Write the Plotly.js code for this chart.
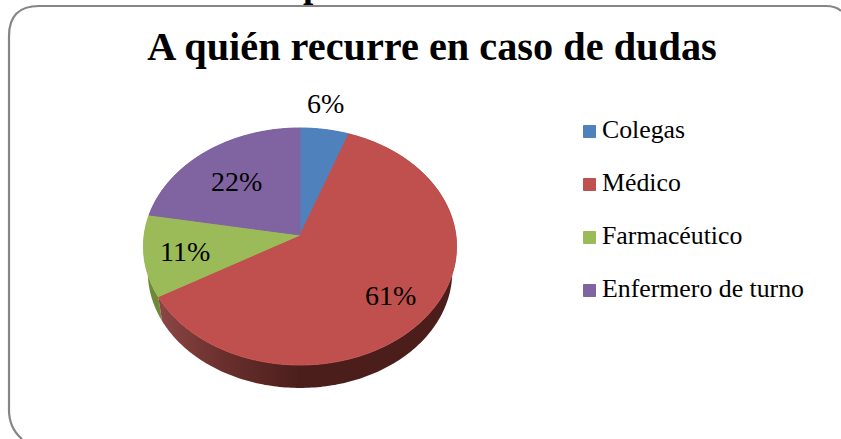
<!DOCTYPE html>
<html>
<head>
<meta charset="utf-8">
<script src="https://cdn.plot.ly/plotly-3.0.1.min.js"></script>
<style>html,body{margin:0;padding:0;background:#fff}#chart{width:841px;height:439px}</style>
</head>
<body>
<div id="chart"></div>
<script>
// Data: 18 respondents
const categories = ['Colegas', 'Médico', 'Farmacéutico', 'Enfermero de turno'];
const counts = [1, 11, 2, 4];
const colors = ['#4F81BD', '#C0504D', '#9BBB59', '#8064A2'];
const sideColors = ['#2F4D71', '#5A2422', '#6E8A38', '#4C3C61'];
const titleText = 'A quién recurre en caso de dudas';
const labelPositions = [[325, 103], [390, 295], [185, 251], [236, 181]];

const FONT = '"Liberation Serif", serif';
const total = counts.reduce((a, b) => a + b, 0);
const W = 841, H = 439;

// Projection of the tilted disc
const tilt = 0.097;
function rimTop(deg) {
  const t = deg * Math.PI / 180, u = Math.sin(t), v = Math.cos(t), d = 1 + tilt * v;
  return [300 + 155.8 * u / d, 235 - 117.4 * v / d];
}
function rimBase(deg) {
  const t = deg * Math.PI / 180, u = Math.sin(t), v = Math.cos(t), d = 1 + tilt * v;
  return [300 + 151.5 * u / d, 260.6 - 115 * v / d];
}
const starts = [];
counts.reduce((acc, c, i) => { starts[i] = acc; return acc + c; }, 0);
const angleRange = i => [starts[i] * 360 / total, (starts[i] + counts[i]) * 360 / total];

function wallTrace(i) {
  const [a, b] = angleRange(i), xs = [], ys = [];
  for (let d = a; d <= b; d += 1) { const p = rimTop(d); xs.push(p[0]); ys.push(p[1]); }
  for (let d = b; d >= a; d -= 1) { const p = rimBase(d); xs.push(p[0]); ys.push(p[1]); }
  return { type: 'scatter', mode: 'none', x: xs, y: ys, fill: 'toself', fillcolor: sideColors[i],
           hoverinfo: 'skip', showlegend: false };
}

const traces = [0, 3, 2, 1].map(wallTrace);
traces.push({
  type: 'pie', labels: categories, values: counts, sort: false, direction: 'clockwise', rotation: 0,
  marker: { colors: colors, line: { color: colors, width: 1 } },
  textinfo: 'none', hoverinfo: 'label+percent', domain: { x: [0.17, 0.54], y: [0.17, 0.71] }
});

const annotations = counts.map((c, i) => ({
  xref: 'x', yref: 'y', x: labelPositions[i][0], y: labelPositions[i][1],
  text: Math.round(c / total * 100) + '%', showarrow: false,
  xanchor: 'center', yanchor: 'middle', font: { family: FONT, size: 28, color: '#000' }
}));
annotations.push({ xref: 'x', yref: 'y', x: 313, y: 4, yanchor: 'bottom', xanchor: 'center', showarrow: false,
  text: '<b>p</b>', font: { family: FONT, size: 37, color: '#000' }, yshift: -3 });

const layout = {
  width: W, height: H, margin: { l: 0, r: 0, t: 0, b: 0 },
  paper_bgcolor: '#fff', plot_bgcolor: '#fff',
  xaxis: { range: [0, W], visible: false, fixedrange: true },
  yaxis: { range: [H, 0], visible: false, fixedrange: true },
  title: { text: '<b>' + titleText + '</b>', x: 432 / W, xanchor: 'center', y: 1 - 46 / H, yanchor: 'middle',
           font: { family: FONT, size: 40.3, color: '#000' } },
  showlegend: true,
  legend: { x: 583 / W, y: 1 - 120 / H, xanchor: 'left', yanchor: 'top', font: { family: FONT, size: 25.8, color: '#000' },
            bgcolor: 'rgba(0,0,0,0)', traceorder: 'normal' },
  annotations: annotations,
  shapes: [{ type: 'path', xref: 'x', yref: 'y', layer: 'below', line: { color: '#868686', width: 2.2 },
    path: 'M 22 439 Q 9 428 9 410 L 9 36 Q 9 6 39 6 L 826 6 Q 836 6 841 11' }]
};

Plotly.newPlot('chart', traces, layout, { displayModeBar: false }).then(gd => {
  const svg = gd.querySelector('svg.main-svg');
  const NS = 'http://www.w3.org/2000/svg';
  // Top surface: project each slice
  gd.querySelectorAll('.pielayer .slice path.surface').forEach((p, i) => {
    const [a, b] = angleRange(i);
    let d = 'M300,235';
    for (let t = a; t <= b; t += 0.5) { const q = rimTop(t); d += 'L' + q[0].toFixed(2) + ',' + q[1].toFixed(2); }
    p.setAttribute('d', d + 'Z');
    p.removeAttribute('transform');
  });
  // Side shading
  const defs = svg.querySelector('defs') || svg.insertBefore(document.createElementNS(NS, 'defs'), svg.firstChild);
  const g = document.createElementNS(NS, 'linearGradient');
  g.id = 'sideRed'; g.setAttribute('gradientUnits', 'userSpaceOnUse');
  g.setAttribute('x1', 160); g.setAttribute('x2', 300); g.setAttribute('y1', 0); g.setAttribute('y2', 0);
  [[0, '#8A4644'], [0.45, '#6A2F2D'], [1, '#4B1E1C']].forEach(s => {
    const e = document.createElementNS(NS, 'stop');
    e.setAttribute('offset', s[0]); e.setAttribute('stop-color', s[1]); g.appendChild(e);
  });
  defs.appendChild(g);
  const fills = gd.querySelectorAll('.scatterlayer .trace .js-fill');
  if (fills[3]) fills[3].style.fill = 'url(#sideRed)';
  // Legend spacing
  const rows = [131.5, 184.5, 237.5, 290.5];
  const legend = gd.querySelector('.legend');
  legend.setAttribute('transform', 'translate(0,0)');
  const sb = legend.querySelector('.scrollbox');
  sb.removeAttribute('clip-path'); sb.setAttribute('transform', 'translate(0,0)');
  legend.querySelector('rect.bg').style.display = 'none';
  legend.querySelectorAll('.traces').forEach((t, i) => {
    t.setAttribute('transform', 'translate(569.5,' + rows[i] + ')');
    const tx = t.querySelector('.legendtext');
    tx.setAttribute('x', 32.5);
    tx.setAttribute('y', 6);
    const tg = t.querySelector('.legendtoggle');
    if (tg) tg.style.display = 'none';
  });
});
</script>
</body>
</html>
